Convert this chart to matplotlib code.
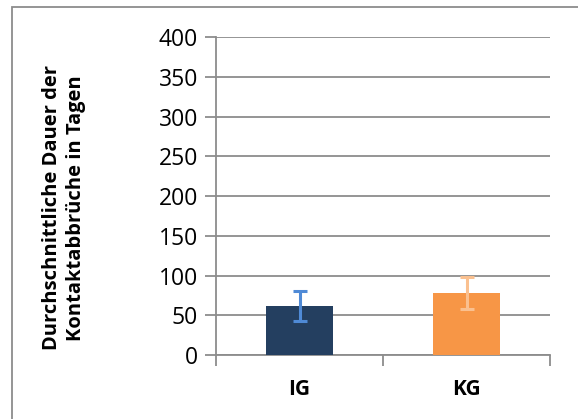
import numpy as np
import matplotlib.pyplot as plt
from matplotlib.patches import Rectangle

# Daten aus dem Diagramm
gruppen = ['IG', 'KG']
mittelwerte = [62, 78]
fehler = [19, 20]
balken_farben = ['#243f60', '#f79646']
fehler_farben = ['#4f8ad6', '#fac08f']
y_ticks = [0, 50, 100, 150, 200, 250, 300, 350, 400]

plt.rcParams['font.family'] = ['Open Sans', 'DejaVu Sans']

fig = plt.figure(figsize=(5.78, 4.19), dpi=100)
ax = fig.add_axes([216 / 578, 1 - 355 / 419, 334 / 578, 318 / 419])

x = np.arange(len(gruppen))
for i in range(len(gruppen)):
    ax.bar(x[i], mittelwerte[i], width=0.4, color=balken_farben[i], zorder=3)
    ax.errorbar(x[i], mittelwerte[i], yerr=fehler[i], fmt='none',
                ecolor=fehler_farben[i], elinewidth=2.2, capsize=5,
                capthick=2.2, zorder=4)

ax.set_xlim(-0.5, 1.5)
ax.set_ylim(0, 400)
ax.set_yticks(y_ticks)
ax.set_yticklabels([str(t) for t in y_ticks], fontsize=16.5)
ax.yaxis.grid(True, color='#8c8c8c', linewidth=1.3, zorder=0)
ax.set_axisbelow(True)

# Kategorie-Ticks an den Grenzen, Beschriftungen mittig
ax.set_xticks([-0.5, 0.5, 1.5])
ax.set_xticklabels([])
ax.set_xticks(x, minor=True)
ax.set_xticklabels(gruppen, minor=True, fontsize=15, fontweight='bold')
ax.tick_params(axis='x', which='minor', length=0, pad=17.5)
ax.tick_params(axis='x', which='major', length=8, width=1.3, color='#8c8c8c')
ax.tick_params(axis='y', length=8, width=1.3, color='#8c8c8c', pad=5)

for s in ['top', 'right']:
    ax.spines[s].set_visible(False)
for s in ['left', 'bottom']:
    ax.spines[s].set_color('#8c8c8c')
    ax.spines[s].set_linewidth(1.3)

fig.text(64 / 578, 1 - 208 / 419,
         'Durchschnittliche Dauer der\nKontaktabbrüche in Tagen',
         rotation=90, ha='center', va='center', fontsize=14.5,
         fontweight='bold', linespacing=1.3)

# Rahmen um das Diagramm
fig.patches.append(Rectangle((12 / 578, -0.05), 1.2, 1 - 7 / 419 + 0.05,
                             transform=fig.transFigure, fill=False,
                             edgecolor='#8c8c8c', linewidth=1.3))

fig.savefig('out.png', dpi=100)
